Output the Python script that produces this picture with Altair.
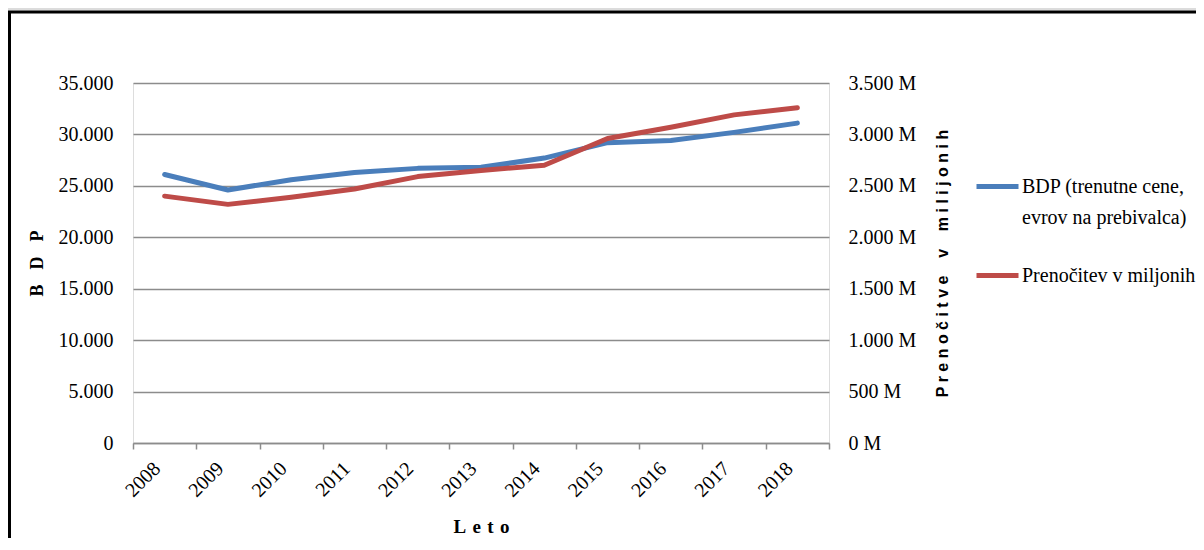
import altair as alt
import pandas as pd

years = ["2008", "2009", "2010", "2011", "2012", "2013", "2014", "2015", "2016", "2017", "2018"]
bdp = [26100, 24600, 25600, 26300, 26700, 26800, 27700, 29200, 29400, 30200, 31100]
nights = [2400, 2320, 2390, 2470, 2590, 2650, 2700, 2960, 3070, 3190, 3260]
series_names = ["BDP (trenutne cene, evrov na prebivalca)", "Prenočitev v miljonih"]
colors = ["#4A7EBB", "#BE4B48"]
left_ticks = [0, 5000, 10000, 15000, 20000, 25000, 30000, 35000]
right_ticks = [0, 500, 1000, 1500, 2000, 2500, 3000, 3500]

NB = "\u00a0"
HAIR = "\u200a"
left_title = (NB * 3 + HAIR).join("BDP")
x_title = (NB + HAIR).join("Leto")
right_title = (NB * 4).join([" ".join("Prenočitve"), "v", " ".join("milijonih")])

df = pd.DataFrame(
    [{"leto": y, "serija": series_names[0], "vrednost": v} for y, v in zip(years, bdp)]
    + [{"leto": y, "serija": series_names[1], "vrednost": v} for y, v in zip(years, nights)]
)

serif = "Liberation Serif"
sans = "Liberation Sans"

color_enc = alt.Color(
    "serija:N",
    scale=alt.Scale(domain=series_names, range=colors),
    legend=alt.Legend(
        title=None,
        orient="none",
        legendX=841,
        legendY=80,
        symbolType="stroke",
        symbolSize=1764,
        symbolStrokeWidth=5,
        labelFont=serif,
        labelFontSize=20,
        labelColor="black",
        labelOffset=1,
        labelLimit=0,
        rowPadding=24,
        labelExpr="datum.label == 'BDP (trenutne cene, evrov na prebivalca)' ? ['BDP (trenutne cene,', 'evrov na prebivalca)'] : datum.label",
    ),
)

x_enc = alt.X(
    "leto:N",
    sort=years,
    bandPosition=0.5,
    scale=alt.Scale(type="band", paddingInner=0, paddingOuter=0),
    axis=alt.Axis(
        title=x_title,
        titleFont=serif,
        titleFontSize=19,
        titleFontWeight="bold",
        titleColor="black",
        titlePadding=17,
        labelFont=serif,
        labelFontSize=20,
        labelColor="black",
        labelAngle=315,
        labelAlign="right",
        labelBaseline="top",
        labelPadding=9,
        labelOffset=-15,
        tickBand="extent",
        tickColor="#8c8c8c",
        tickSize=6,
        tickWidth=1.5,
        domainColor="#8c8c8c",
        domainWidth=1.5,
        grid=False,
    ),
)

frame_df = pd.DataFrame({"k": [0]})
frame = alt.Chart(frame_df).mark_rect(fillOpacity=0, stroke="black", strokeWidth=3).encode(
    x=alt.value(-123.5), x2=alt.value(1300), y=alt.value(-71), y2=alt.value(700)
)
strip = alt.Chart(frame_df).mark_rect(fill="#dcdcdc").encode(
    x=alt.value(-125), x2=alt.value(1300), y=alt.value(-75), y2=alt.value(-72.5)
)

left = alt.Chart(df).transform_filter(alt.datum.serija == series_names[0]).mark_line(
    strokeWidth=5, strokeCap="round", strokeJoin="round"
).encode(
    x=x_enc,
    y=alt.Y(
        "vrednost:Q",
        scale=alt.Scale(domain=[0, 35000], nice=False),
        axis=alt.Axis(
            values=left_ticks,
            title=left_title,
            titleFont=serif,
            titleFontSize=18,
            titleFontWeight="bold",
            titleColor="black",
            titlePadding=12,
            labelFont=serif,
            labelFontSize=20,
            labelColor="black",
            labelPadding=20,
            labelExpr="replace(format(datum.value, ','), ',', '.')",
            domain=False,
            ticks=False,
            grid=True,
            gridColor="#8c8c8c",
            gridWidth=1.5,
        ),
    ),
    color=color_enc,
)

right = alt.Chart(df).transform_filter(alt.datum.serija == series_names[1]).mark_line(
    strokeWidth=5, strokeCap="round", strokeJoin="round"
).encode(
    x=x_enc,
    y=alt.Y(
        "vrednost:Q",
        scale=alt.Scale(domain=[0, 3500], nice=False),
        axis=alt.Axis(
            orient="right",
            values=right_ticks,
            title=right_title,
            titleFont=sans,
            titleFontSize=16,
            titleFontWeight="bold",
            titleColor="black",
            titleAngle=270,
            titlePadding=35,
            labelFont=serif,
            labelFontSize=20,
            labelColor="black",
            labelPadding=19,
            labelExpr="replace(format(datum.value, ','), ',', '.') + ' M'",
            domain=False,
            ticks=False,
            grid=False,
        ),
    ),
    color=color_enc,
)

chart = (
    alt.layer(strip, frame, left, right)
    .resolve_scale(y="independent")
    .properties(
        width=696,
        height=360,
        autosize=alt.AutoSizeParams(type="none"),
        padding={"left": 125, "top": 75, "right": 367, "bottom": 95},
        background="white",
    )
    .configure_view(stroke=None)
    .configure(style={"guide-label": {"lineHeight": 31}})
)

chart.save("out.html", embed_options={"renderer": "svg", "actions": False})
